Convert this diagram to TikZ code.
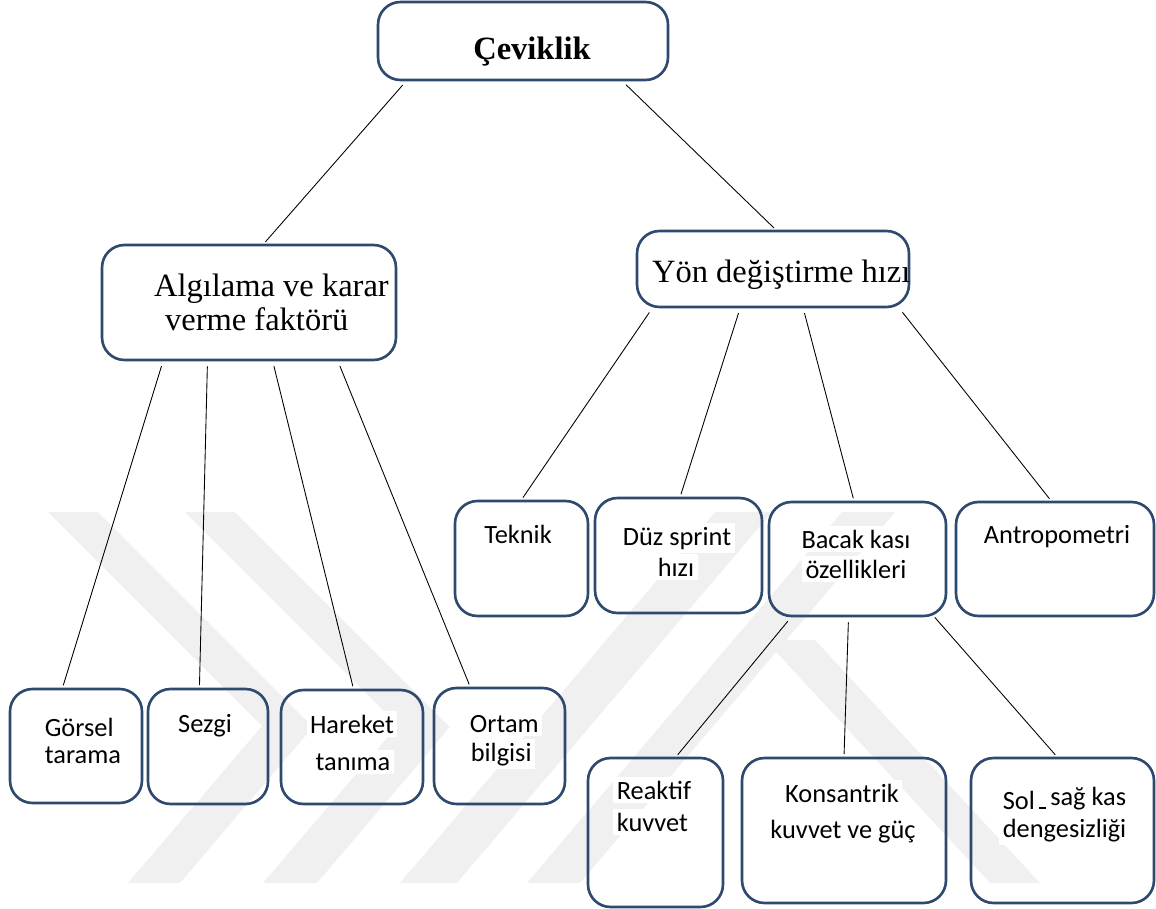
\documentclass[tikz,border=0pt]{standalone}
\usepackage{fontspec}
\setmainfont{Liberation Serif}
\newfontfamily\calibri{Carlito}
\usetikzlibrary{calc}
\definecolor{boxblue}{HTML}{2E4A6E}
\definecolor{wmgray}{HTML}{F0F0F0}

\begin{document}
\begin{tikzpicture}[x=0.02cm, y=-0.02cm,
    box/.style={draw=boxblue, line width=1.5pt, rounded corners=0.45cm, inner sep=0pt},
    serif/.style={font=\fontsize{18.5pt}{20pt}\selectfont, inner sep=1pt},
    sans/.style={font=\calibri\fontsize{15pt}{18pt}\selectfont, fill=white, inner sep=2pt},
    link/.style={line width=0.5pt, shorten <=0.1cm, shorten >=0.05cm}]
\useasboundingbox (0,0) rectangle (1156,909);

% watermark in the back
\fill[wmgray] (48,512) -- (98,512) -- (313,727) -- (180,883) -- (128,883) -- (262,726) -- cycle;
\fill[wmgray] (185,512) -- (235,512) -- (450,727) -- (317,883) -- (263,883) -- (398,725) -- cycle;
\fill[wmgray] (400,883) -- (457,883) -- (772,512) -- (715,512) -- cycle;
\fill[wmgray] (527,883) -- (580,883) -- (895,512) -- (842,512) -- cycle;
\fill[wmgray] (765,640) -- (815,640) -- (1040,883) -- (990,883) -- cycle;

% boxes
\node[box, minimum width=5.80cm, minimum height=1.56cm] (cev) at (523,41) {};
\node[box, minimum width=5.88cm, minimum height=2.30cm] (alg) at (249,302.5) {};
\node[box, minimum width=5.44cm, minimum height=1.52cm] (yon) at (773,269) {};
\node[box, minimum width=2.66cm, minimum height=2.30cm] (tek) at (521.5,558.5) {};
\node[box, minimum width=3.34cm, minimum height=2.30cm] (duz) at (678.5,555.5) {};
\node[box, minimum width=3.54cm, minimum height=2.28cm] (bac) at (857.5,559) {};
\node[box, minimum width=3.96cm, minimum height=2.28cm] (ant) at (1055,559) {};
\node[box, minimum width=2.64cm, minimum height=2.28cm] (gor) at (76,746) {};
\node[box, minimum width=2.40cm, minimum height=2.30cm] (sez) at (208,746.5) {};
\node[box, minimum width=2.84cm, minimum height=2.28cm] (har) at (352,747) {};
\node[box, minimum width=2.62cm, minimum height=2.32cm] (ort) at (499.5,746) {};
\node[box, minimum width=2.70cm, minimum height=2.98cm] (rea) at (655.5,832.5) {};
\node[box, minimum width=4.08cm, minimum height=2.90cm] (kon) at (844,830.5) {};
\node[box, minimum width=3.66cm, minimum height=2.90cm] (sol) at (1062.5,830.5) {};

% texts
\node[serif, anchor=base] (t-cev) at (532,60) {\bfseries Çeviklik};
\node[serif, anchor=base west] (t-alg1) at (152,296) {Algılama ve karar};
\node[serif, anchor=base west] (t-alg2) at (163,330) {verme faktörü};
\node[serif, anchor=base west] (t-yon) at (650,282) {Yön değiştirme hızı};
\node[sans, anchor=base] (t-tek) at (518,543) {Teknik};
\node[sans, anchor=base] (t-duz1) at (677,545) {Düz sprint};
\node[sans, anchor=base] (t-duz2) at (676,576) {hızı};
\node[sans, anchor=base] (t-bac1) at (856,548) {Bacak kası};
\node[sans, anchor=base] (t-bac2) at (856,578) {özellikleri};
\node[sans, anchor=base] (t-ant) at (1057,543) {Antropometri};
\node[sans, anchor=base west] (t-gor1) at (41,736) {Görsel};
\node[sans, anchor=base west] (t-gor2) at (41,763) {tarama};
\node[sans, anchor=base] (t-sez) at (205,732) {Sezgi};
\node[sans, anchor=base] (t-har1) at (352,733) {Hareket};
\node[sans, anchor=base] (t-har2) at (353,770) {tanıma};
\node[sans, anchor=base west] (t-ort1) at (466,732) {Ortam};
\node[sans, anchor=base west] (t-ort2) at (467,761) {bilgisi};
\node[sans, anchor=base west] (t-rea1) at (613,799) {Reaktif};
\node[sans, anchor=base west] (t-rea2) at (613,831) {kuvvet};
\node[sans, anchor=base] (t-kon1) at (842,802) {Konsantrik};
\node[sans, anchor=base] (t-kon2) at (843,838) {kuvvet ve güç};
\node[sans, anchor=base west] (t-sol1) at (999,809) {Sol\,\rule{0.25em}{0.07em}\,\raisebox{2pt}{sağ kas}};
\node[sans, anchor=base west] (t-sol2) at (999,837) {dengesizliği};

% connectors
\draw[link] ($(cev.south west)!.10!(cev.south east)$) -- ($(alg.north west)!.55!(alg.north east)$);
\draw[link] ($(cev.south west)!.84!(cev.south east)$) -- ($(yon.north west)!.51!(yon.north east)$);
\draw[link] ($(alg.south west)!.21!(alg.south east)$) -- ($(gor.north west)!.40!(gor.north east)$);
\draw[link] ($(alg.south west)!.36!(alg.south east)$) -- ($(sez.north west)!.43!(sez.north east)$);
\draw[link] ($(alg.south west)!.58!(alg.south east)$) -- ($(har.north west)!.51!(har.north east)$);
\draw[link] ($(alg.south west)!.80!(alg.south east)$) -- ($(ort.north west)!.28!(ort.north east)$);
\draw[link] ($(yon.south west)!.06!(yon.south east)$) -- ($(tek.north west)!.50!(tek.north east)$);
\draw[link] ($(yon.south west)!.38!(yon.south east)$) -- ($(duz.north west)!.51!(duz.north east)$);
\draw[link] ($(yon.south west)!.61!(yon.south east)$) -- ($(bac.north west)!.48!(bac.north east)$);
\draw[link] ($(yon.south west)!.96!(yon.south east)$) -- ($(ant.north west)!.48!(ant.north east)$);
\draw[link] ($(bac.south west)!.13!(bac.south east)$) -- ($(rea.north west)!.65!(rea.north east)$);
\draw[link] ($(bac.south west)!.45!(bac.south east)$) -- ($(kon.north west)!.50!(kon.north east)$);
\draw[link, shorten <=0pt] ($(bac.south west)!.93!(bac.south east)$) -- ($(sol.north west)!.47!(sol.north east)$);
\end{tikzpicture}
\end{document}
